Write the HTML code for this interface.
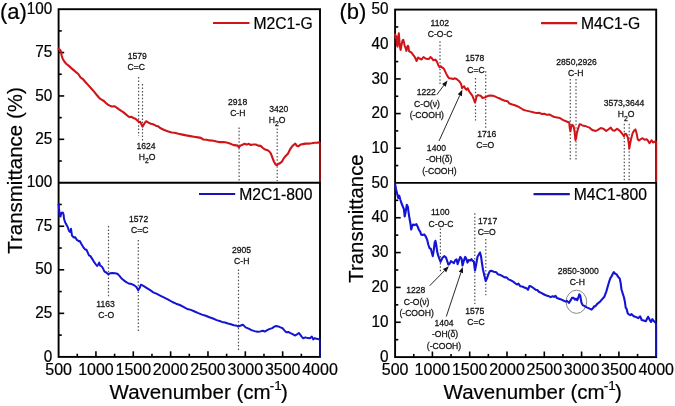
<!DOCTYPE html><html><head><meta charset="utf-8"><style>html,body{margin:0;padding:0;background:#fff;}svg{display:block;filter:blur(0.35px);}text{font-family:"Liberation Sans",sans-serif;}</style></head><body><svg width="675" height="406" viewBox="0 0 675 406" font-family="Liberation Sans, sans-serif" fill="#000">
<rect width="675" height="406" fill="#fff"/>
<rect x="58.6" y="9.2" width="261.4" height="347.7" fill="none" stroke="#000" stroke-width="1.9"/>
<line x1="58.6" y1="182.7" x2="320.0" y2="182.7" stroke="#000" stroke-width="1.9"/>
<line x1="58.6" y1="161.01" x2="61.800000000000004" y2="161.01" stroke="#000" stroke-width="1.6"/>
<line x1="58.6" y1="139.32" x2="64.2" y2="139.32" stroke="#000" stroke-width="1.6"/>
<line x1="58.6" y1="117.64" x2="61.800000000000004" y2="117.64" stroke="#000" stroke-width="1.6"/>
<line x1="58.6" y1="95.95" x2="64.2" y2="95.95" stroke="#000" stroke-width="1.6"/>
<line x1="58.6" y1="74.26" x2="61.800000000000004" y2="74.26" stroke="#000" stroke-width="1.6"/>
<line x1="58.6" y1="52.57" x2="64.2" y2="52.57" stroke="#000" stroke-width="1.6"/>
<line x1="58.6" y1="30.89" x2="61.800000000000004" y2="30.89" stroke="#000" stroke-width="1.6"/>
<text transform="translate(52.20,13.80) scale(1,1.05)" font-size="15.3" text-anchor="end" stroke="#000" stroke-width="0.2">100</text>
<text transform="translate(52.20,57.17) scale(1,1.05)" font-size="15.3" text-anchor="end" stroke="#000" stroke-width="0.2">75</text>
<text transform="translate(52.20,100.55) scale(1,1.05)" font-size="15.3" text-anchor="end" stroke="#000" stroke-width="0.2">50</text>
<text transform="translate(52.20,143.92) scale(1,1.05)" font-size="15.3" text-anchor="end" stroke="#000" stroke-width="0.2">25</text>
<line x1="58.6" y1="335.12" x2="61.800000000000004" y2="335.12" stroke="#000" stroke-width="1.6"/>
<line x1="58.6" y1="313.35" x2="64.2" y2="313.35" stroke="#000" stroke-width="1.6"/>
<line x1="58.6" y1="291.57" x2="61.800000000000004" y2="291.57" stroke="#000" stroke-width="1.6"/>
<line x1="58.6" y1="269.80" x2="64.2" y2="269.80" stroke="#000" stroke-width="1.6"/>
<line x1="58.6" y1="248.02" x2="61.800000000000004" y2="248.02" stroke="#000" stroke-width="1.6"/>
<line x1="58.6" y1="226.25" x2="64.2" y2="226.25" stroke="#000" stroke-width="1.6"/>
<line x1="58.6" y1="204.47" x2="61.800000000000004" y2="204.47" stroke="#000" stroke-width="1.6"/>
<text transform="translate(52.20,187.30) scale(1,1.05)" font-size="15.3" text-anchor="end" stroke="#000" stroke-width="0.2">100</text>
<text transform="translate(52.20,230.85) scale(1,1.05)" font-size="15.3" text-anchor="end" stroke="#000" stroke-width="0.2">75</text>
<text transform="translate(52.20,274.40) scale(1,1.05)" font-size="15.3" text-anchor="end" stroke="#000" stroke-width="0.2">50</text>
<text transform="translate(52.20,317.95) scale(1,1.05)" font-size="15.3" text-anchor="end" stroke="#000" stroke-width="0.2">25</text>
<text transform="translate(52.20,361.50) scale(1,1.05)" font-size="15.3" text-anchor="end" stroke="#000" stroke-width="0.2">0</text>
<line x1="77.27" y1="356.9" x2="77.27" y2="353.7" stroke="#000" stroke-width="1.6"/>
<line x1="95.94" y1="356.9" x2="95.94" y2="351.29999999999995" stroke="#000" stroke-width="1.6"/>
<line x1="114.61" y1="356.9" x2="114.61" y2="353.7" stroke="#000" stroke-width="1.6"/>
<line x1="133.29" y1="356.9" x2="133.29" y2="351.29999999999995" stroke="#000" stroke-width="1.6"/>
<line x1="151.96" y1="356.9" x2="151.96" y2="353.7" stroke="#000" stroke-width="1.6"/>
<line x1="170.63" y1="356.9" x2="170.63" y2="351.29999999999995" stroke="#000" stroke-width="1.6"/>
<line x1="189.30" y1="356.9" x2="189.30" y2="353.7" stroke="#000" stroke-width="1.6"/>
<line x1="207.97" y1="356.9" x2="207.97" y2="351.29999999999995" stroke="#000" stroke-width="1.6"/>
<line x1="226.64" y1="356.9" x2="226.64" y2="353.7" stroke="#000" stroke-width="1.6"/>
<line x1="245.31" y1="356.9" x2="245.31" y2="351.29999999999995" stroke="#000" stroke-width="1.6"/>
<line x1="263.99" y1="356.9" x2="263.99" y2="353.7" stroke="#000" stroke-width="1.6"/>
<line x1="282.66" y1="356.9" x2="282.66" y2="351.29999999999995" stroke="#000" stroke-width="1.6"/>
<line x1="301.33" y1="356.9" x2="301.33" y2="353.7" stroke="#000" stroke-width="1.6"/>
<text transform="translate(58.60,374.60) scale(1,1.05)" font-size="16" text-anchor="middle" stroke="#000" stroke-width="0.2">500</text>
<text transform="translate(95.94,374.60) scale(1,1.05)" font-size="16" text-anchor="middle" stroke="#000" stroke-width="0.2">1000</text>
<text transform="translate(133.29,374.60) scale(1,1.05)" font-size="16" text-anchor="middle" stroke="#000" stroke-width="0.2">1500</text>
<text transform="translate(170.63,374.60) scale(1,1.05)" font-size="16" text-anchor="middle" stroke="#000" stroke-width="0.2">2000</text>
<text transform="translate(207.97,374.60) scale(1,1.05)" font-size="16" text-anchor="middle" stroke="#000" stroke-width="0.2">2500</text>
<text transform="translate(245.31,374.60) scale(1,1.05)" font-size="16" text-anchor="middle" stroke="#000" stroke-width="0.2">3000</text>
<text transform="translate(282.66,374.60) scale(1,1.05)" font-size="16" text-anchor="middle" stroke="#000" stroke-width="0.2">3500</text>
<text transform="translate(320.00,374.60) scale(1,1.05)" font-size="16" text-anchor="middle" stroke="#000" stroke-width="0.2">4000</text>
<rect x="395.1" y="9.6" width="261.1" height="347.5" fill="none" stroke="#000" stroke-width="1.9"/>
<line x1="395.1" y1="182.9" x2="656.2" y2="182.9" stroke="#000" stroke-width="1.9"/>
<line x1="395.1" y1="165.57" x2="398.3" y2="165.57" stroke="#000" stroke-width="1.6"/>
<line x1="395.1" y1="148.24" x2="400.70000000000005" y2="148.24" stroke="#000" stroke-width="1.6"/>
<line x1="395.1" y1="130.91" x2="398.3" y2="130.91" stroke="#000" stroke-width="1.6"/>
<line x1="395.1" y1="113.58" x2="400.70000000000005" y2="113.58" stroke="#000" stroke-width="1.6"/>
<line x1="395.1" y1="96.25" x2="398.3" y2="96.25" stroke="#000" stroke-width="1.6"/>
<line x1="395.1" y1="78.92" x2="400.70000000000005" y2="78.92" stroke="#000" stroke-width="1.6"/>
<line x1="395.1" y1="61.59" x2="398.3" y2="61.59" stroke="#000" stroke-width="1.6"/>
<line x1="395.1" y1="44.26" x2="400.70000000000005" y2="44.26" stroke="#000" stroke-width="1.6"/>
<line x1="395.1" y1="26.93" x2="398.3" y2="26.93" stroke="#000" stroke-width="1.6"/>
<text transform="translate(388.50,14.20) scale(1,1.05)" font-size="15.3" text-anchor="end" stroke="#000" stroke-width="0.2">50</text>
<text transform="translate(388.50,48.86) scale(1,1.05)" font-size="15.3" text-anchor="end" stroke="#000" stroke-width="0.2">40</text>
<text transform="translate(388.50,83.52) scale(1,1.05)" font-size="15.3" text-anchor="end" stroke="#000" stroke-width="0.2">30</text>
<text transform="translate(388.50,118.18) scale(1,1.05)" font-size="15.3" text-anchor="end" stroke="#000" stroke-width="0.2">20</text>
<text transform="translate(388.50,152.84) scale(1,1.05)" font-size="15.3" text-anchor="end" stroke="#000" stroke-width="0.2">10</text>
<line x1="395.1" y1="339.68" x2="398.3" y2="339.68" stroke="#000" stroke-width="1.6"/>
<line x1="395.1" y1="322.26" x2="400.70000000000005" y2="322.26" stroke="#000" stroke-width="1.6"/>
<line x1="395.1" y1="304.84" x2="398.3" y2="304.84" stroke="#000" stroke-width="1.6"/>
<line x1="395.1" y1="287.42" x2="400.70000000000005" y2="287.42" stroke="#000" stroke-width="1.6"/>
<line x1="395.1" y1="270.00" x2="398.3" y2="270.00" stroke="#000" stroke-width="1.6"/>
<line x1="395.1" y1="252.58" x2="400.70000000000005" y2="252.58" stroke="#000" stroke-width="1.6"/>
<line x1="395.1" y1="235.16" x2="398.3" y2="235.16" stroke="#000" stroke-width="1.6"/>
<line x1="395.1" y1="217.74" x2="400.70000000000005" y2="217.74" stroke="#000" stroke-width="1.6"/>
<line x1="395.1" y1="200.32" x2="398.3" y2="200.32" stroke="#000" stroke-width="1.6"/>
<text transform="translate(388.50,187.50) scale(1,1.05)" font-size="15.3" text-anchor="end" stroke="#000" stroke-width="0.2">50</text>
<text transform="translate(388.50,222.34) scale(1,1.05)" font-size="15.3" text-anchor="end" stroke="#000" stroke-width="0.2">40</text>
<text transform="translate(388.50,257.18) scale(1,1.05)" font-size="15.3" text-anchor="end" stroke="#000" stroke-width="0.2">30</text>
<text transform="translate(388.50,292.02) scale(1,1.05)" font-size="15.3" text-anchor="end" stroke="#000" stroke-width="0.2">20</text>
<text transform="translate(388.50,326.86) scale(1,1.05)" font-size="15.3" text-anchor="end" stroke="#000" stroke-width="0.2">10</text>
<text transform="translate(388.50,361.70) scale(1,1.05)" font-size="15.3" text-anchor="end" stroke="#000" stroke-width="0.2">0</text>
<line x1="413.75" y1="357.1" x2="413.75" y2="353.90000000000003" stroke="#000" stroke-width="1.6"/>
<line x1="432.40" y1="357.1" x2="432.40" y2="351.5" stroke="#000" stroke-width="1.6"/>
<line x1="451.05" y1="357.1" x2="451.05" y2="353.90000000000003" stroke="#000" stroke-width="1.6"/>
<line x1="469.70" y1="357.1" x2="469.70" y2="351.5" stroke="#000" stroke-width="1.6"/>
<line x1="488.35" y1="357.1" x2="488.35" y2="353.90000000000003" stroke="#000" stroke-width="1.6"/>
<line x1="507.00" y1="357.1" x2="507.00" y2="351.5" stroke="#000" stroke-width="1.6"/>
<line x1="525.65" y1="357.1" x2="525.65" y2="353.90000000000003" stroke="#000" stroke-width="1.6"/>
<line x1="544.30" y1="357.1" x2="544.30" y2="351.5" stroke="#000" stroke-width="1.6"/>
<line x1="562.95" y1="357.1" x2="562.95" y2="353.90000000000003" stroke="#000" stroke-width="1.6"/>
<line x1="581.60" y1="357.1" x2="581.60" y2="351.5" stroke="#000" stroke-width="1.6"/>
<line x1="600.25" y1="357.1" x2="600.25" y2="353.90000000000003" stroke="#000" stroke-width="1.6"/>
<line x1="618.90" y1="357.1" x2="618.90" y2="351.5" stroke="#000" stroke-width="1.6"/>
<line x1="637.55" y1="357.1" x2="637.55" y2="353.90000000000003" stroke="#000" stroke-width="1.6"/>
<text transform="translate(395.10,374.60) scale(1,1.05)" font-size="16" text-anchor="middle" stroke="#000" stroke-width="0.2">500</text>
<text transform="translate(432.40,374.60) scale(1,1.05)" font-size="16" text-anchor="middle" stroke="#000" stroke-width="0.2">1000</text>
<text transform="translate(469.70,374.60) scale(1,1.05)" font-size="16" text-anchor="middle" stroke="#000" stroke-width="0.2">1500</text>
<text transform="translate(507.00,374.60) scale(1,1.05)" font-size="16" text-anchor="middle" stroke="#000" stroke-width="0.2">2000</text>
<text transform="translate(544.30,374.60) scale(1,1.05)" font-size="16" text-anchor="middle" stroke="#000" stroke-width="0.2">2500</text>
<text transform="translate(581.60,374.60) scale(1,1.05)" font-size="16" text-anchor="middle" stroke="#000" stroke-width="0.2">3000</text>
<text transform="translate(618.90,374.60) scale(1,1.05)" font-size="16" text-anchor="middle" stroke="#000" stroke-width="0.2">3500</text>
<text transform="translate(656.20,374.60) scale(1,1.05)" font-size="16" text-anchor="middle" stroke="#000" stroke-width="0.2">4000</text>
<text transform="translate(21.90,170.50) rotate(-90)" font-size="20.5" text-anchor="middle" stroke="#000" stroke-width="0.2">Transmittance (%)</text>
<text transform="translate(363.20,218.50) rotate(-90)" font-size="20.4" text-anchor="middle" stroke="#000" stroke-width="0.2">Transmittance</text>
<text x="109.6" y="399" font-size="20.5" stroke="#000" stroke-width="0.2">Wavenumber (cm<tspan font-size="13.5" dx="-0.8" dy="-9.2">-1</tspan><tspan dx="-0.9" dy="9.2">)</tspan></text>
<text x="443.6" y="399" font-size="20.5" stroke="#000" stroke-width="0.2">Wavenumber (cm<tspan font-size="13.5" dx="-0.8" dy="-9.2">-1</tspan><tspan dx="-0.9" dy="9.2">)</tspan></text>
<text transform="translate(0.00,19.00)" font-size="22" text-anchor="start" stroke="#000" stroke-width="0.2">(a)</text>
<text transform="translate(339.50,19.30)" font-size="22" text-anchor="start" stroke="#000" stroke-width="0.2">(b)</text>
<line x1="213" y1="23.0" x2="249.5" y2="23.0" stroke="#d01418" stroke-width="2.2"/>
<text transform="translate(253.50,28.50)" font-size="15.7" text-anchor="start" stroke="#000" stroke-width="0.2">M2C1-G</text>
<line x1="199" y1="194.0" x2="235.2" y2="194.0" stroke="#1a14b8" stroke-width="2.2"/>
<text transform="translate(239.20,199.50)" font-size="15.7" text-anchor="start" stroke="#000" stroke-width="0.2">M2C1-800</text>
<line x1="541" y1="23.1" x2="577.2" y2="23.1" stroke="#d01418" stroke-width="2.2"/>
<text transform="translate(581.00,28.60)" font-size="15.7" text-anchor="start" stroke="#000" stroke-width="0.2">M4C1-G</text>
<line x1="533.5" y1="194.1" x2="569.8" y2="194.1" stroke="#1a14b8" stroke-width="2.2"/>
<text transform="translate(573.80,199.60)" font-size="15.7" text-anchor="start" stroke="#000" stroke-width="0.2">M4C1-800</text>
<text transform="translate(137.20,58.70) scale(1,1.08)" font-size="8.6" text-anchor="middle" fill="#111" stroke="#111" stroke-width="0.25">1579</text>
<text transform="translate(136.30,69.60) scale(1,1.08)" font-size="8.6" text-anchor="middle" fill="#111" stroke="#111" stroke-width="0.25">C=C</text>
<line x1="138.6" y1="77" x2="138.6" y2="136" stroke="#505050" stroke-width="1.2" stroke-dasharray="1.5 1.94"/>
<line x1="142.5" y1="84" x2="142.5" y2="141" stroke="#505050" stroke-width="1.2" stroke-dasharray="1.5 1.94"/>
<text transform="translate(146.00,148.80) scale(1,1.08)" font-size="8.6" text-anchor="middle" fill="#111" stroke="#111" stroke-width="0.25">1624</text>
<text transform="translate(147.00,159.50) scale(1,1.08)" font-size="8.6" text-anchor="middle" fill="#111" stroke="#111" stroke-width="0.25">H<tspan font-size="6.8" dy="3.3">2</tspan><tspan dy="-3.3">O</tspan></text>
<text transform="translate(237.60,104.90) scale(1,1.08)" font-size="8.6" text-anchor="middle" fill="#111" stroke="#111" stroke-width="0.25">2918</text>
<text transform="translate(237.80,115.70) scale(1,1.08)" font-size="8.6" text-anchor="middle" fill="#111" stroke="#111" stroke-width="0.25">C-H</text>
<line x1="239.1" y1="127.4" x2="239.1" y2="181" stroke="#505050" stroke-width="1.2" stroke-dasharray="1.5 1.94"/>
<text transform="translate(278.80,112.10) scale(1,1.08)" font-size="8.6" text-anchor="middle" fill="#111" stroke="#111" stroke-width="0.25">3420</text>
<text transform="translate(277.00,122.80) scale(1,1.08)" font-size="8.6" text-anchor="middle" fill="#111" stroke="#111" stroke-width="0.25">H<tspan font-size="6.8" dy="3.3">2</tspan><tspan dy="-3.3">O</tspan></text>
<line x1="277.2" y1="128.4" x2="277.2" y2="181" stroke="#505050" stroke-width="1.2" stroke-dasharray="1.5 1.94"/>
<text transform="translate(138.60,221.70) scale(1,1.08)" font-size="8.6" text-anchor="middle" fill="#111" stroke="#111" stroke-width="0.25">1572</text>
<text transform="translate(139.80,232.70) scale(1,1.08)" font-size="8.6" text-anchor="middle" fill="#111" stroke="#111" stroke-width="0.25">C=C</text>
<line x1="108.5" y1="226" x2="108.5" y2="296.5" stroke="#505050" stroke-width="1.2" stroke-dasharray="1.5 1.94"/>
<line x1="138.3" y1="240" x2="138.3" y2="331" stroke="#505050" stroke-width="1.2" stroke-dasharray="1.5 1.94"/>
<text transform="translate(105.60,307.40) scale(1,1.08)" font-size="8.6" text-anchor="middle" fill="#111" stroke="#111" stroke-width="0.25">1163</text>
<text transform="translate(106.20,318.30) scale(1,1.08)" font-size="8.6" text-anchor="middle" fill="#111" stroke="#111" stroke-width="0.25">C-O</text>
<text transform="translate(241.50,253.20) scale(1,1.08)" font-size="8.6" text-anchor="middle" fill="#111" stroke="#111" stroke-width="0.25">2905</text>
<text transform="translate(241.70,264.10) scale(1,1.08)" font-size="8.6" text-anchor="middle" fill="#111" stroke="#111" stroke-width="0.25">C-H</text>
<line x1="238.5" y1="269.4" x2="238.5" y2="350.4" stroke="#505050" stroke-width="1.2" stroke-dasharray="1.5 1.94"/>
<text transform="translate(439.80,26.10) scale(1,1.08)" font-size="8.6" text-anchor="middle" fill="#111" stroke="#111" stroke-width="0.25">1102</text>
<text transform="translate(440.10,37.20) scale(1,1.08)" font-size="8.6" text-anchor="middle" fill="#111" stroke="#111" stroke-width="0.25">C-O-C</text>
<line x1="440" y1="41.3" x2="440" y2="84" stroke="#505050" stroke-width="1.2" stroke-dasharray="1.5 1.94"/>
<text transform="translate(426.30,95.40) scale(1,1.08)" font-size="8.6" text-anchor="middle" fill="#111" stroke="#111" stroke-width="0.25">1222</text>
<text transform="translate(427.00,107.00) scale(1,1.08)" font-size="8.6" text-anchor="middle" fill="#111" stroke="#111" stroke-width="0.25">C-O(ν)</text>
<text transform="translate(426.80,118.00) scale(1,1.08)" font-size="8.6" text-anchor="middle" fill="#111" stroke="#111" stroke-width="0.25">(-COOH)</text>
<text transform="translate(436.40,150.60) scale(1,1.08)" font-size="8.6" text-anchor="middle" fill="#111" stroke="#111" stroke-width="0.25">1400</text>
<text transform="translate(439.20,162.00) scale(1,1.08)" font-size="8.6" text-anchor="middle" fill="#111" stroke="#111" stroke-width="0.25">-OH(δ)</text>
<text transform="translate(439.40,173.80) scale(1,1.08)" font-size="8.6" text-anchor="middle" fill="#111" stroke="#111" stroke-width="0.25">(-COOH)</text>
<text transform="translate(474.80,61.40) scale(1,1.08)" font-size="8.6" text-anchor="middle" fill="#111" stroke="#111" stroke-width="0.25">1578</text>
<text transform="translate(475.90,72.60) scale(1,1.08)" font-size="8.6" text-anchor="middle" fill="#111" stroke="#111" stroke-width="0.25">C=C</text>
<line x1="475.5" y1="78" x2="475.5" y2="120.5" stroke="#505050" stroke-width="1.2" stroke-dasharray="1.5 1.94"/>
<line x1="485.7" y1="71.2" x2="485.7" y2="128.5" stroke="#505050" stroke-width="1.2" stroke-dasharray="1.5 1.94"/>
<text transform="translate(486.80,136.90) scale(1,1.08)" font-size="8.6" text-anchor="middle" fill="#111" stroke="#111" stroke-width="0.25">1716</text>
<text transform="translate(485.30,147.70) scale(1,1.08)" font-size="8.6" text-anchor="middle" fill="#111" stroke="#111" stroke-width="0.25">C=O</text>
<text transform="translate(576.60,64.90) scale(1,1.08)" font-size="8.6" text-anchor="middle" fill="#111" stroke="#111" stroke-width="0.25">2850,2926</text>
<text transform="translate(575.70,76.00) scale(1,1.08)" font-size="8.6" text-anchor="middle" fill="#111" stroke="#111" stroke-width="0.25">C-H</text>
<line x1="570.3" y1="79" x2="570.3" y2="160" stroke="#505050" stroke-width="1.2" stroke-dasharray="1.5 1.94"/>
<line x1="576" y1="79" x2="576" y2="160" stroke="#505050" stroke-width="1.2" stroke-dasharray="1.5 1.94"/>
<text transform="translate(624.00,106.30) scale(1,1.08)" font-size="8.6" text-anchor="middle" fill="#111" stroke="#111" stroke-width="0.25">3573,3644</text>
<text transform="translate(626.20,117.40) scale(1,1.08)" font-size="8.6" text-anchor="middle" fill="#111" stroke="#111" stroke-width="0.25">H<tspan font-size="6.8" dy="3.3">2</tspan><tspan dy="-3.3">O</tspan></text>
<line x1="624.3" y1="123.8" x2="624.3" y2="181.5" stroke="#505050" stroke-width="1.2" stroke-dasharray="1.5 1.94"/>
<line x1="629.2" y1="123.8" x2="629.2" y2="181.5" stroke="#505050" stroke-width="1.2" stroke-dasharray="1.5 1.94"/>
<text transform="translate(440.20,214.90) scale(1,1.08)" font-size="8.6" text-anchor="middle" fill="#111" stroke="#111" stroke-width="0.25">1100</text>
<text transform="translate(441.00,226.50) scale(1,1.08)" font-size="8.6" text-anchor="middle" fill="#111" stroke="#111" stroke-width="0.25">C-O-C</text>
<line x1="440.4" y1="228.5" x2="440.4" y2="271.8" stroke="#505050" stroke-width="1.2" stroke-dasharray="1.5 1.94"/>
<text transform="translate(487.60,223.70) scale(1,1.08)" font-size="8.6" text-anchor="middle" fill="#111" stroke="#111" stroke-width="0.25">1717</text>
<text transform="translate(486.70,234.80) scale(1,1.08)" font-size="8.6" text-anchor="middle" fill="#111" stroke="#111" stroke-width="0.25">C=O</text>
<line x1="474.8" y1="213.3" x2="474.8" y2="304" stroke="#505050" stroke-width="1.2" stroke-dasharray="1.5 1.94"/>
<line x1="485.8" y1="239" x2="485.8" y2="295.3" stroke="#505050" stroke-width="1.2" stroke-dasharray="1.5 1.94"/>
<text transform="translate(415.80,292.90) scale(1,1.08)" font-size="8.6" text-anchor="middle" fill="#111" stroke="#111" stroke-width="0.25">1228</text>
<text transform="translate(416.60,304.50) scale(1,1.08)" font-size="8.6" text-anchor="middle" fill="#111" stroke="#111" stroke-width="0.25">C-O(ν)</text>
<text transform="translate(416.60,316.00) scale(1,1.08)" font-size="8.6" text-anchor="middle" fill="#111" stroke="#111" stroke-width="0.25">(-COOH)</text>
<text transform="translate(444.00,325.80) scale(1,1.08)" font-size="8.6" text-anchor="middle" fill="#111" stroke="#111" stroke-width="0.25">1404</text>
<text transform="translate(445.00,337.00) scale(1,1.08)" font-size="8.6" text-anchor="middle" fill="#111" stroke="#111" stroke-width="0.25">-OH(δ)</text>
<text transform="translate(444.00,348.50) scale(1,1.08)" font-size="8.6" text-anchor="middle" fill="#111" stroke="#111" stroke-width="0.25">(-COOH)</text>
<text transform="translate(474.70,313.50) scale(1,1.08)" font-size="8.6" text-anchor="middle" fill="#111" stroke="#111" stroke-width="0.25">1575</text>
<text transform="translate(476.00,324.80) scale(1,1.08)" font-size="8.6" text-anchor="middle" fill="#111" stroke="#111" stroke-width="0.25">C=C</text>
<text transform="translate(578.20,273.90) scale(1,1.08)" font-size="8.6" text-anchor="middle" fill="#111" stroke="#111" stroke-width="0.25">2850-3000</text>
<text transform="translate(577.30,284.60) scale(1,1.08)" font-size="8.6" text-anchor="middle" fill="#111" stroke="#111" stroke-width="0.25">C-H</text>
<ellipse cx="576.4" cy="301.8" rx="10.3" ry="11.6" fill="none" stroke="#888" stroke-width="1"/>
<line x1="436.8" y1="94.7" x2="443.89" y2="85.29" stroke="#111" stroke-width="0.9"/>
<polygon points="447.5,80.5 445.73,86.68 442.05,83.91" fill="#111"/>
<line x1="439" y1="141" x2="459.81" y2="95.26" stroke="#111" stroke-width="0.9"/>
<polygon points="462.3,89.8 461.91,96.21 457.72,94.31" fill="#111"/>
<line x1="429.6" y1="285.8" x2="444.59" y2="270.58" stroke="#111" stroke-width="0.9"/>
<polygon points="448.8,266.3 446.23,272.19 442.95,268.96" fill="#111"/>
<line x1="446.3" y1="316.5" x2="460.91" y2="272.59" stroke="#111" stroke-width="0.9"/>
<polygon points="462.8,266.9 463.09,273.32 458.72,271.87" fill="#111"/>
<polyline points="58.6,48.6 60.2,50.0 61.2,51.8 61.6,55.5 62.8,59.0 64.5,61.8 66.2,63.7 68.8,65.9 72.2,68.9 75.7,71.9 78.3,74.0 80.4,77.3 82.6,78.8 85.6,82.2 88.5,85.4 91.5,88.7 94.5,92.1 97.4,95.8 100.0,98.7 102.0,99.8 103.9,101.0 105.9,103.0 107.9,104.6 109.8,105.6 111.8,106.5 114.8,106.2 116.7,107.7 118.7,109.2 121.2,110.9 123.6,112.4 125.6,114.1 127.6,115.8 129.5,117.1 131.0,116.8 133.5,118.0 135.4,118.7 137.4,120.5 138.9,122.0 140.2,121.7 141.3,124.0 142.5,126.6 144.1,124.0 145.8,121.5 146.5,121.3 148.4,122.6 150.9,123.8 153.9,124.6 155.8,125.7 157.8,126.2 160.7,128.3 164.2,130.0 167.6,131.2 171.6,132.5 174.5,132.8 178.5,133.8 182.4,134.6 186.3,135.4 190.3,136.1 193.9,136.7 197.9,137.4 200.8,137.9 203.3,139.5 206.7,139.7 209.7,140.4 213.6,140.7 216.6,141.5 219.5,142.1 222.5,142.1 225.4,142.3 228.4,143.1 231.3,144.1 233.8,145.1 236.3,145.4 237.5,145.6 238.9,147.2 240.4,145.6 242.4,144.8 244.8,143.8 246.8,144.6 248.8,143.8 250.7,145.0 253.2,144.5 255.7,144.5 258.1,145.6 260.6,145.9 262.6,147.7 264.5,149.2 267.5,150.2 269.4,151.5 270.9,153.6 272.4,157.6 273.9,161.5 275.4,164.3 276.8,165.2 278.3,164.0 280.3,163.0 282.0,161.4 283.9,158.1 285.9,155.8 287.9,153.7 289.9,149.7 291.8,146.8 293.8,144.8 295.3,143.6 296.8,145.8 298.2,146.3 300.2,144.8 302.7,144.1 305.6,143.6 308.6,143.6 311.6,143.3 314.5,142.8 317.5,142.6 319.2,142.4" fill="none" stroke="#d01418" stroke-width="2.1" stroke-linejoin="round" stroke-linecap="round"/>
<polyline points="58.6,204.5 59.2,210.0 59.6,216.0 60.5,216.5 61.3,213.0 62.7,212.5 63.6,214.6 64.0,218.5 64.8,221.4 65.8,223.6 67.7,227.0 68.9,230.7 70.2,231.9 71.0,228.8 72.0,235.6 73.8,237.5 75.1,237.1 76.9,239.9 78.8,241.2 79.8,241.1 81.1,243.5 82.9,246.6 84.8,249.1 86.6,250.0 87.9,252.8 89.1,255.6 90.3,255.9 92.2,258.9 94.0,261.8 95.9,264.5 97.1,266.0 98.3,264.5 99.2,262.6 100.2,265.7 101.6,266.3 103.2,268.8 104.5,271.6 106.3,272.5 108.2,274.3 110.0,273.3 112.5,273.1 114.9,273.3 117.4,273.7 119.3,275.6 121.1,278.0 122.5,279.2 125.5,281.6 128.6,283.5 131.7,284.1 134.2,285.3 136.6,287.2 138.2,290.2 139.7,287.8 140.9,284.7 143.4,285.9 146.5,287.8 150.2,290.2 153.3,292.3 156.9,293.9 160.6,295.8 164.3,297.6 168.7,299.8 172.4,302.0 176.1,303.7 179.8,305.0 183.5,306.9 187.2,309.0 190.9,309.9 194.6,311.5 198.3,313.1 202.0,314.6 205.7,315.8 209.4,317.3 213.0,318.5 216.7,320.1 220.4,321.3 222.0,321.9 225.0,322.5 227.9,323.5 230.9,324.2 233.8,325.2 236.3,325.5 238.2,326.7 240.2,325.7 242.9,324.7 244.1,325.9 245.6,327.4 248.6,328.6 251.5,330.1 254.5,331.1 257.4,331.8 260.4,331.4 262.8,330.8 264.8,331.6 266.8,330.4 269.2,329.1 272.2,328.1 274.4,326.6 276.1,325.9 278.3,326.4 280.5,327.4 282.7,328.3 284.4,330.3 286.1,332.2 288.3,331.9 290.5,333.1 292.7,334.1 294.9,335.5 296.6,334.7 298.8,333.0 300.2,334.7 301.6,336.6 303.3,338.3 305.5,337.4 307.7,338.1 309.9,338.3 311.9,336.6 313.2,339.4 314.9,338.1 316.6,338.8 319.0,339.2" fill="none" stroke="#1414d4" stroke-width="2.0" stroke-linejoin="round" stroke-linecap="round"/>
<polyline points="395.2,34.5 395.6,37.9 396.3,36.2 396.9,44.8 397.5,46.6 398.2,37.9 398.8,33.2 399.2,37.9 399.9,46.6 400.6,50.0 401.4,45.7 402.5,40.5 403.3,39.7 404.0,42.2 404.6,45.7 405.5,47.8 406.4,50.9 407.1,47.4 407.8,45.7 408.5,46.6 408.9,50.9 409.8,51.7 411.1,52.2 412.4,53.9 413.7,55.6 415.0,57.3 416.6,61.0 418.1,57.5 419.6,58.5 421.6,59.5 423.5,57.0 425.5,58.5 427.5,59.0 429.0,58.8 430.5,57.0 431.9,58.3 433.4,60.3 435.4,59.6 436.9,61.7 438.3,65.2 439.6,67.2 440.8,66.2 442.3,67.7 443.8,68.6 444.9,70.8 446.2,73.6 447.7,76.5 449.2,78.3 451.2,78.5 453.1,79.0 454.6,78.3 456.6,79.0 458.0,80.3 459.5,81.6 461.0,83.8 462.1,88.2 462.9,87.2 464.1,86.2 465.4,88.7 466.4,89.7 467.8,88.2 469.0,91.2 470.8,93.6 472.3,95.6 473.7,99.0 474.9,102.5 475.7,100.5 476.5,96.6 477.7,95.1 479.2,95.4 480.8,95.8 482.6,98.0 484.6,97.6 486.5,96.6 488.5,95.8 491.0,95.4 492.9,95.8 494.9,96.4 497.4,97.6 499.8,98.5 502.3,99.8 504.8,100.8 507.5,101.2 509.4,103.5 512.4,104.5 514.8,105.2 517.3,106.2 520.3,107.8 523.2,109.8 526.2,110.6 529.6,111.4 533.1,112.2 536.5,113.1 539.4,112.8 541.9,114.0 544.4,113.7 546.8,114.8 549.3,114.5 550.0,114.7 552.0,116.0 554.4,117.0 557.4,117.6 559.9,118.0 562.3,119.6 564.8,120.8 567.2,121.7 569.2,122.5 569.7,127.7 570.4,131.4 571.2,127.2 572.2,124.7 573.6,126.2 574.6,131.6 575.4,140.0 576.1,138.5 576.8,133.6 578.1,128.6 579.6,124.2 581.0,124.5 582.5,125.5 585.0,125.9 587.4,126.9 590.0,127.9 590.4,128.6 592.9,130.3 595.8,131.0 598.3,129.6 600.8,128.0 603.2,128.6 606.2,131.0 608.6,129.3 610.8,127.6 612.6,130.3 614.6,130.8 617.0,128.8 618.0,129.4 620.0,131.0 621.9,133.3 623.9,136.3 625.1,133.8 626.4,134.3 627.9,137.7 628.8,143.6 629.3,148.6 630.0,144.6 631.0,139.2 632.6,133.3 634.0,130.8 635.5,129.4 636.7,133.8 637.7,139.2 638.9,140.5 640.7,139.2 642.6,138.2 644.6,139.7 646.6,139.2 648.0,140.7 649.5,143.2 651.5,140.2 653.0,142.5 655.0,141.5 655.6,141.2" fill="none" stroke="#d01418" stroke-width="2.0" stroke-linejoin="round" stroke-linecap="round"/>
<polyline points="395.2,184.5 396.1,189.4 397.3,194.3 398.2,198.0 399.2,195.6 400.2,199.3 401.4,203.0 402.6,206.0 403.9,209.1 404.7,216.5 405.7,211.6 406.8,204.8 407.8,206.7 408.8,214.1 409.6,219.0 410.5,223.9 411.2,229.5 412.1,226.4 413.0,224.5 414.6,224.9 416.4,224.2 417.7,226.7 418.9,229.8 420.2,231.6 421.2,234.7 422.6,234.9 424.2,234.4 425.8,236.5 427.1,239.6 428.3,244.5 429.5,248.2 430.8,248.8 432.0,253.2 432.8,256.2 433.7,250.7 434.7,242.7 435.4,240.8 436.2,244.5 437.2,251.9 438.4,256.2 439.6,259.3 440.6,261.8 441.5,259.9 442.7,257.5 444.5,256.2 446.0,257.5 447.2,261.1 448.4,264.6 449.7,263.6 450.9,261.1 452.4,262.1 453.9,263.1 455.3,260.1 456.6,259.4 457.6,264.1 458.8,260.6 460.3,256.9 461.6,258.6 462.5,265.5 463.7,261.1 465.2,256.9 466.2,258.6 467.5,262.6 468.6,260.1 470.1,260.6 471.4,259.1 472.6,260.8 473.8,261.4 474.6,267.5 475.0,270.5 476.0,265.5 477.5,256.7 478.7,254.7 480.0,252.5 481.0,256.2 481.9,262.6 483.0,269.8 484.4,275.7 485.7,281.1 486.9,278.6 488.4,274.2 489.8,271.2 491.3,270.7 493.8,271.7 496.2,272.2 497.7,274.2 499.7,274.7 502.1,275.9 504.6,277.4 506.6,277.4 508.5,279.4 511.0,280.4 513.5,281.8 515.4,283.5 516.9,284.5 518.4,283.7 520.4,286.3 522.3,286.5 524.3,287.5 526.5,288.3 528.0,289.8 529.4,286.0 530.9,286.3 533.4,288.0 535.8,289.8 537.3,290.0 538.8,291.7 541.2,292.9 543.7,294.2 545.7,295.2 548.1,295.9 550.6,297.1 552.6,296.2 554.0,296.9 555.5,295.9 557.0,298.1 559.0,298.8 561.4,299.6 563.9,300.8 565.8,301.6 567.0,300.9 568.9,302.9 570.4,300.7 571.9,297.9 573.4,297.7 574.9,299.7 576.0,298.7 577.3,300.2 578.3,297.7 579.3,294.3 580.3,295.8 581.3,302.2 582.7,305.1 584.7,306.1 586.7,307.4 589.1,308.4 591.6,309.6 593.1,308.1 594.1,306.4 595.5,306.1 597.0,304.1 598.5,302.9 600.5,301.2 601.8,299.6 604.3,296.8 606.2,291.9 607.6,287.0 609.2,281.5 610.5,277.8 611.7,276.2 612.9,273.5 613.8,272.2 615.0,273.5 616.6,274.4 618.2,276.9 619.7,278.4 620.7,283.3 621.5,289.5 622.8,293.8 624.0,297.5 624.9,301.8 625.7,307.7 626.7,309.2 627.7,313.2 628.9,314.4 630.3,315.1 631.6,314.1 632.8,315.4 634.3,316.6 636.3,317.1 638.2,318.1 640.2,316.4 641.7,320.0 643.6,320.5 645.8,321.3 648.1,316.8 649.6,319.6 651.0,322.0 652.3,319.1 654.0,321.3 655.3,322.5" fill="none" stroke="#1414d4" stroke-width="2.1" stroke-linejoin="round" stroke-linecap="round"/>
<line x1="320.0" y1="142.4" x2="320.0" y2="181.7" stroke="#b01414" stroke-width="1.6"/>
<line x1="320.0" y1="339.2" x2="320.0" y2="357" stroke="#1010a8" stroke-width="1.6"/>
<line x1="656.2" y1="141.2" x2="656.2" y2="182" stroke="#b01414" stroke-width="1.6"/>
<line x1="656.2" y1="322.5" x2="656.2" y2="357" stroke="#1010a8" stroke-width="1.6"/>
</svg></body></html>
